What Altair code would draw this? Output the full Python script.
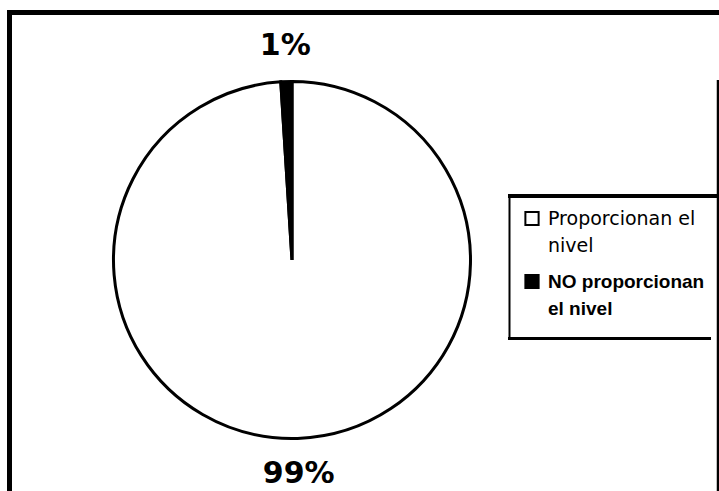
import altair as alt
import pandas as pd

# Survey result: share of respondents that provide the level
categories = ["Proporcionan el nivel", "NO proporcionan el nivel"]
values = [99, 1]
pct_labels = ["99%", "1%"]
legend_lines = ["Proporcionan el\nnivel", "NO proporcionan\nel nivel"]
slice_colors = ["white", "black"]

W, H = 719, 491
CX, CY, R = 292, 260, 178.5

pie_df = pd.DataFrame({
    "categoria": categories,
    "valor": values,
    "etiqueta": pct_labels,
    "orden": list(range(len(categories))),
})
legend_df = pd.DataFrame({
    "categoria": categories,
    "texto": legend_lines,
    "fila": list(range(len(categories))),
})

color_scale = alt.Scale(domain=categories, range=slice_colors)

base = alt.Chart(pie_df).encode(
    theta=alt.Theta("valor:Q", stack=True),
    order=alt.Order("orden:Q"),
)

pie = base.mark_arc(radius=R, stroke="black", strokeWidth=3).encode(
    color=alt.Color("categoria:N", scale=color_scale, legend=None),
    x=alt.value(CX),
    y=alt.value(CY),
)

pct = base.mark_text(
    radius=214, font="DejaVu Sans", fontWeight="bold", fontSize=30,
    baseline="middle", align="center", color="black",
).encode(text="etiqueta:N", x=alt.value(CX), y=alt.value(CY))

# Hand-built legend: square swatches with wrapped labels
leg = alt.Chart(legend_df).transform_calculate(
    sy="218.5 + datum.fila * 63",
    ty="225 + datum.fila * 63",
)
swatch = leg.mark_point(
    shape="square", filled=True, size=175, stroke="black", strokeWidth=2, opacity=1
).encode(
    x=alt.value(532),
    y=alt.Y("sy:Q", scale=None),
    fill=alt.Color("categoria:N", scale=color_scale, legend=None),
)
text_first = leg.transform_filter("datum.fila == 0").mark_text(
    font="DejaVu Sans", fontSize=19, align="left", baseline="alphabetic",
    lineBreak="\n", lineHeight=27, color="black",
).encode(x=alt.value(548), y=alt.Y("ty:Q", scale=None), text="texto:N")
text_second = leg.transform_filter("datum.fila == 1").mark_text(
    font="Liberation Sans", fontWeight="bold", fontSize=19, align="left",
    baseline="alphabetic", lineBreak="\n", lineHeight=27, color="black",
).encode(x=alt.value(548), y=alt.Y("ty:Q", scale=None), text="texto:N")


def hline(x1, x2, y, w):
    return alt.Chart(alt.Data(values=[{}])).mark_rule(
        color="black", strokeWidth=w
    ).encode(x=alt.value(x1), x2=alt.value(x2), y=alt.value(y))


def vline(x, y1, y2, w):
    return alt.Chart(alt.Data(values=[{}])).mark_rule(
        color="black", strokeWidth=w
    ).encode(x=alt.value(x), y=alt.value(y1), y2=alt.value(y2))


frame = [
    hline(7, W, 12.5, 5),
    vline(9.5, 10, H, 5),
    vline(718, 80, H, 2.5),
    hline(508, W, 196, 4),
    vline(509.5, 194, 340, 2),
    hline(508, 711, 338.5, 3),
]

chart = alt.layer(pie, pct, swatch, text_first, text_second, *frame).properties(
    width=W, height=H, padding=0, autosize=alt.AutoSizeParams(type="none"),
    background="white",
).configure_view(stroke=None)

chart.save("out.html", embed_options={"renderer": "svg", "actions": False})
